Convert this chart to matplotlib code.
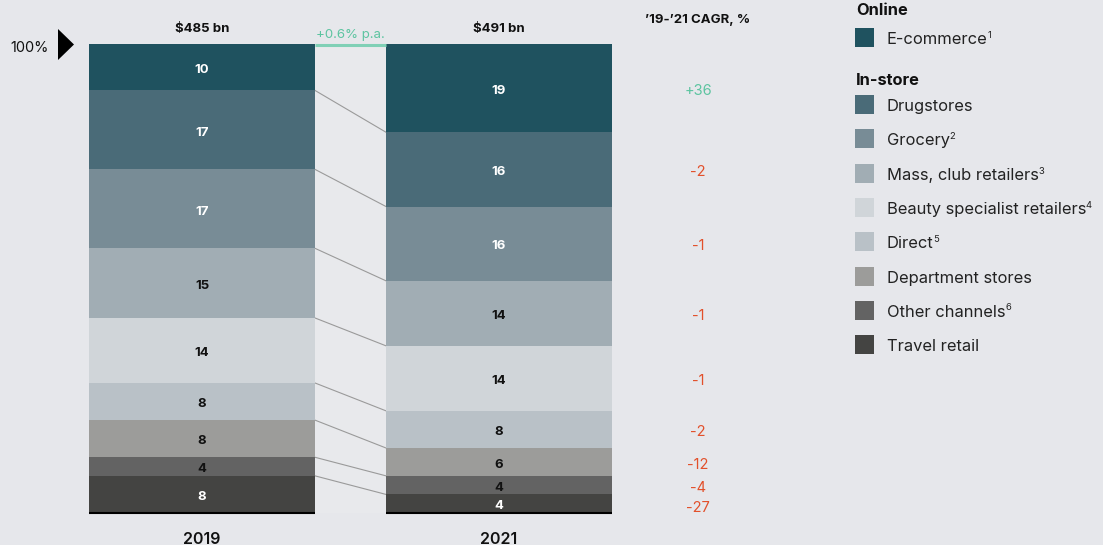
import matplotlib
matplotlib.use("Agg")
import matplotlib.pyplot as plt
from matplotlib.patches import Polygon, Rectangle

plt.rcParams['font.family'] = ['Inter', 'DejaVu Sans']

# ---- data (top to bottom) ----
channels = ["E-commerce", "Drugstores", "Grocery", "Mass, club retailers",
            "Beauty specialist retailers", "Direct", "Department stores",
            "Other channels", "Travel retail"]
footnotes = ["1", "", "2", "3", "4", "5", "", "6", ""]
years = ["2019", "2021"]
share_2019 = [10, 17, 17, 15, 14, 8, 8, 4, 8]
share_2021 = [19, 16, 16, 14, 14, 8, 6, 4, 4]
totals = ["$485 bn", "$491 bn"]
cagr = ["+36", "-2", "-1", "-1", "-1", "-2", "-12", "-4", "-27"]
growth_label = "+0.6% p.a."

colors = ["#1f525f", "#4a6b78", "#788c96", "#a1adb4", "#d0d5d9",
          "#b9c1c7", "#9c9c9a", "#636363", "#444442"]
label_colors = ["white", "white", "white", "#111111", "#111111",
                "#111111", "#111111", "#111111", "white"]
bg = "#e6e7eb"
green = "#5cc4a0"
red = "#e2502b"

W, H = 1103, 545
fig = plt.figure(figsize=(W / 100, H / 100), dpi=100, facecolor=bg)
ax = fig.add_axes([0, 0, 1, 1])
ax.set_facecolor(bg)
px = 100 / 469.0  # data units per pixel vertically
ax.set_xlim(0, W)
ax.set_ylim(-(545 - 513) * px, 100 + 44 * px)
ax.axis("off")

VA = "center_baseline"
DY = -1.2 * px  # small downward nudge for text centring

def ypx(p):
    return 100 - (p - 44) * px

bar_x = [202, 499]
bar_w = 226

def stack(vals):
    s = float(sum(vals))
    norm = [v / s * 100 for v in vals]
    bottoms = []
    acc = 100.0
    for n in norm:
        acc -= n
        bottoms.append(acc)
    return norm, bottoms

data = [share_2019, share_2021]
stacks = [stack(v) for v in data]

# gap background (very subtle)
ax.add_patch(Rectangle((bar_x[0] + bar_w / 2, 0), bar_x[1] - bar_x[0] - bar_w, 100,
                       facecolor="#e8e9ec", edgecolor="none", zorder=0))

for bi, (vals, (norm, bottoms)) in enumerate(zip(data, stacks)):
    ax.bar([bar_x[bi]] * len(vals), norm, bottom=bottoms, width=bar_w,
           color=colors, edgecolor="none", zorder=2)
    for i, v in enumerate(vals):
        yc = bottoms[i] + norm[i] / 2 + DY
        ax.text(bar_x[bi], yc, str(v), ha="center", va=VA,
                fontsize=9.5, fontweight="bold", color=label_colors[i], zorder=3)
    ax.plot([bar_x[bi] - bar_w / 2, bar_x[bi] + bar_w / 2], [0, 0],
            color="black", lw=1.5, zorder=3, solid_capstyle="butt")
    ax.text(bar_x[bi], ypx(26) + DY, totals[bi], ha="center", va=VA,
            fontsize=9.5, fontweight="bold", color="#111111")
    ax.text(bar_x[bi], ypx(537) + DY, years[bi], ha="center", va=VA,
            fontsize=11.5, fontweight="semibold", color="#111111")

# connector lines
x_left = bar_x[0] + bar_w / 2
x_right = bar_x[1] - bar_w / 2
for i in range(len(channels) - 1):
    y1 = stacks[0][1][i]
    y2 = stacks[1][1][i]
    ax.plot([x_left, x_right], [y1, y2], color="#9a9a9a", lw=0.8, zorder=1)

# growth line on top
ax.plot([x_left, x_right], [100 - 0.3, 100 - 0.3], color="#80d0b6", lw=2.2,
        zorder=3, solid_capstyle="butt")
ax.text((x_left + x_right) / 2, ypx(32) + DY, growth_label, ha="center", va=VA,
        fontsize=9.5, color=green)

# 100% marker
ax.text(30, ypx(45) + DY, "100%", ha="center", va=VA, fontsize=10.5, color="#111111")
ax.add_patch(Polygon([(58, ypx(29)), (58, ypx(60)), (74, ypx(44.5))],
                     closed=True, facecolor="black", edgecolor="none"))

# CAGR column
ax.text(698, ypx(17) + DY, "\u201919-\u201921 CAGR, %", ha="center", va=VA,
        fontsize=9.5, fontweight="bold", color="#111111")
norm21, bot21 = stacks[1]
for i, c in enumerate(cagr):
    yc = bot21[i] + norm21[i] / 2 + DY
    if i == len(cagr) - 1:
        yc -= 1.5 * px
    ax.text(698, yc, c, ha="center", va=VA, fontsize=10.5,
            color=green if c.startswith("+") else red)

# legend
ax.text(856, ypx(8) + DY, "Online", ha="left", va=VA, fontsize=11.8,
        fontweight="bold", color="#111111")
ax.text(856, ypx(78) + DY, "In-store", ha="left", va=VA, fontsize=11.8,
        fontweight="bold", color="#111111")
leg_y = [37, 104, 138, 173, 207, 241, 276, 310, 344]
renderer = fig.canvas.get_renderer()
for i, name in enumerate(channels):
    yc = ypx(leg_y[i])
    ax.add_patch(Rectangle((855, yc - 9.5 * px), 19, 19 * px,
                           facecolor=colors[i], edgecolor="none"))
    t = ax.text(887, yc + DY, name, ha="left", va=VA, fontsize=11.9, color="#222222")
    if footnotes[i]:
        bb = t.get_window_extent(renderer=renderer)
        xe = ax.transData.inverted().transform((bb.x1, bb.y1))[0]
        ax.text(xe - 0.5, yc + 3.0 * px, footnotes[i], ha="left", va=VA,
                fontsize=6.8, color="#222222")

fig.savefig("out.png", dpi=100, facecolor=bg)
